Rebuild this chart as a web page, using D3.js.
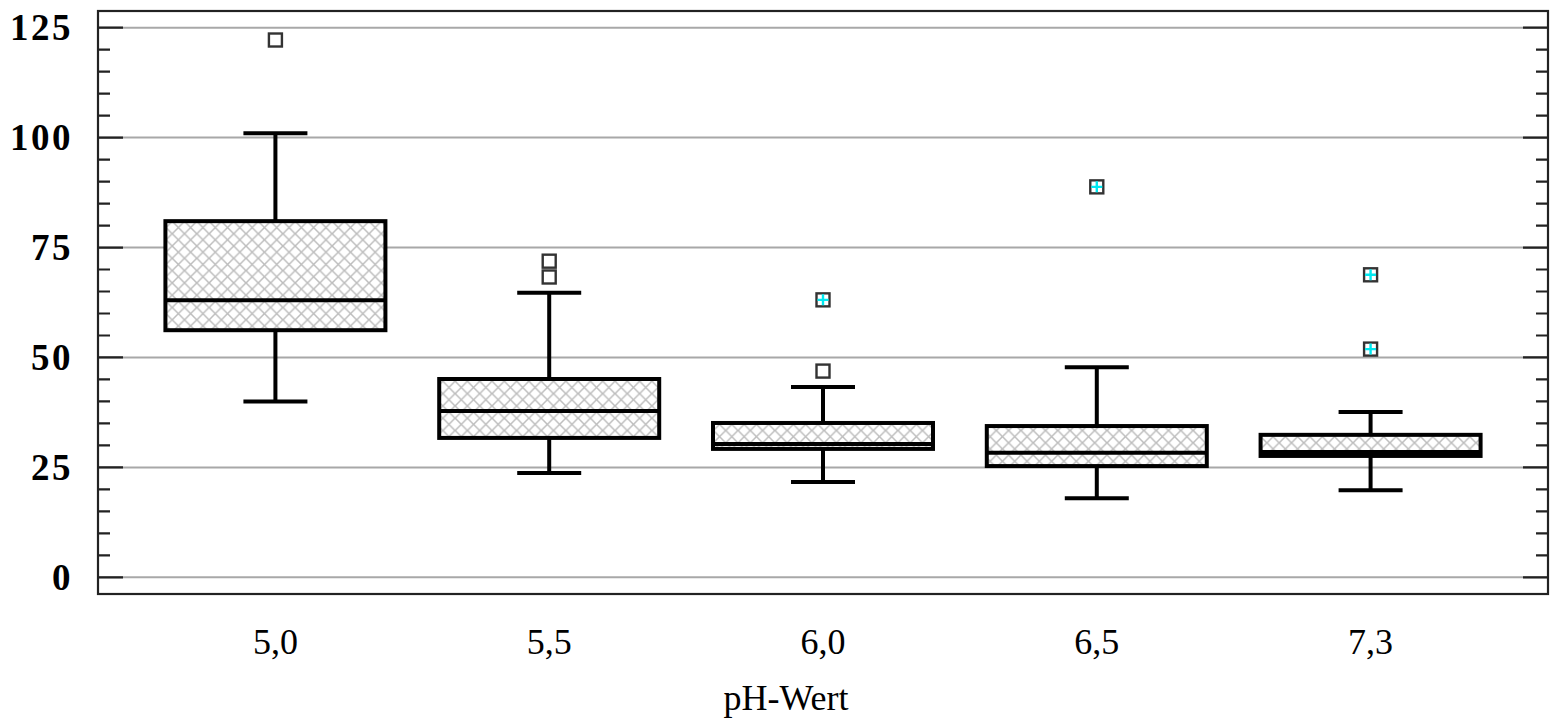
<!DOCTYPE html>
<html>
<head>
<meta charset="utf-8">
<script src="https://cdn.jsdelivr.net/npm/d3@7"></script>
<style>
  html, body { margin: 0; padding: 0; background: #fff; }
  svg { display: block; }
</style>
</head>
<body>
<svg id="chart" width="1554" height="719"></svg>
<script>
// pH groups
const categories = ["5,0", "5,5", "6,0", "6,5", "7,3"];
// box statistics per group
const q1 = [56.2, 31.7, 29.2, 25.3, 27.6];
const median = [63.0, 37.8, 30.3, 28.3, 28.5];
const q3 = [81.0, 45.1, 35.1, 34.4, 32.4];
const whiskerLow = [40.0, 23.7, 21.7, 18.0, 19.8];
const whiskerHigh = [101.0, 64.7, 43.3, 47.8, 37.6];
// outliers (plain squares) and extreme values (squares with cross)
const outliers = [[122.2], [71.9, 68.3], [46.9], [], []];
const extremes = [[], [], [63.1], [88.8], [68.8, 51.9]];
// axis ticks
const yTicks = [0, 25, 50, 75, 100, 125];
const yMinorTicks = d3.range(0, 130, 5).filter(v => v % 25 !== 0);
const xTitle = "pH-Wert";

const svg = d3.select("#chart");
const plotLeft = 98, plotRight = 1548, plotTop = 11, plotBottom = 594;

const x = d3.scalePoint().domain(categories).range([plotLeft, plotRight]).padding(0.648);
const y = d3.scaleLinear().domain([0, 125]).range([577.3, 27.7]);

const boxW = 220, capW = 64, mk = 13;
const serif = "'Liberation Serif', 'DejaVu Serif', serif";

// hatch pattern
const defs = svg.append("defs");
const pat = defs.append("pattern")
  .attr("id", "hatch").attr("patternUnits", "userSpaceOnUse")
  .attr("width", 12.3).attr("height", 12.3);
pat.append("rect").attr("width", 12.3).attr("height", 12.3).attr("fill", "#fff");
pat.append("path")
  .attr("d", "M-1,-1 L13.3,13.3 M13.3,-1 L-1,13.3")
  .attr("stroke", "#bdbdbd").attr("stroke-width", 1.5).attr("fill", "none");

// grid lines
svg.append("g").selectAll("line").data(yTicks).join("line")
  .attr("x1", plotLeft).attr("x2", plotRight)
  .attr("y1", d => y(d)).attr("y2", d => y(d))
  .attr("stroke", "#a8a8a8").attr("stroke-width", 2);

// major and minor ticks on both vertical axes
const tickG = svg.append("g").attr("stroke", "#222");
tickG.selectAll(".maj").data(yTicks).join("path").attr("class", "maj")
  .attr("d", d => `M${plotLeft},${y(d)}H${plotLeft + 25}M${plotRight},${y(d)}H${plotRight - 25}`)
  .attr("stroke-width", 2.2);
tickG.selectAll(".min").data(yMinorTicks).join("path").attr("class", "min")
  .attr("d", d => `M${plotLeft},${y(d)}H${plotLeft + 12}M${plotRight},${y(d)}H${plotRight - 12}`)
  .attr("stroke-width", 2.2);

// frame
svg.append("rect")
  .attr("x", plotLeft).attr("y", plotTop)
  .attr("width", plotRight - plotLeft).attr("height", plotBottom - plotTop)
  .attr("fill", "none").attr("stroke", "#222").attr("stroke-width", 2.2);

// y labels
svg.append("g").selectAll("text").data(yTicks).join("text")
  .attr("x", 73).attr("y", d => y(d)).attr("dy", "0.34em")
  .attr("text-anchor", "end")
  .attr("font-family", serif)
  .attr("font-weight", "bold").attr("font-size", 37)
  .attr("letter-spacing", 2.5)
  .text(d => d);

// x labels
svg.append("g").selectAll("text").data(categories).join("text")
  .attr("x", d => x(d)).attr("y", 654)
  .attr("text-anchor", "middle")
  .attr("font-family", serif)
  .attr("font-size", 36)
  .text(d => d);

svg.append("text")
  .attr("x", 786).attr("y", 710)
  .attr("text-anchor", "middle")
  .attr("font-family", serif)
  .attr("font-size", 36)
  .text(xTitle);

// box plots
const boxes = categories.map((c, i) => ({
  c, q1: q1[i], med: median[i], q3: q3[i], lo: whiskerLow[i], hi: whiskerHigh[i],
  out: outliers[i], ext: extremes[i]
}));

const g = svg.append("g").attr("stroke", "#000");
const bg = g.selectAll(".box").data(boxes).join("g").attr("class", "box");

// whiskers
bg.append("path")
  .attr("d", d => `M${x(d.c)},${y(d.q3)}V${y(d.hi)}M${x(d.c)},${y(d.q1)}V${y(d.lo)}` +
    `M${x(d.c) - capW / 2},${y(d.hi)}H${x(d.c) + capW / 2}` +
    `M${x(d.c) - capW / 2},${y(d.lo)}H${x(d.c) + capW / 2}`)
  .attr("stroke-width", 4).attr("fill", "none");

// box body
bg.append("rect")
  .attr("x", d => x(d.c) - boxW / 2).attr("width", boxW)
  .attr("y", d => y(d.q3)).attr("height", d => y(d.q1) - y(d.q3))
  .attr("fill", "url(#hatch)").attr("stroke-width", 4);

// median
bg.append("line")
  .attr("x1", d => x(d.c) - boxW / 2).attr("x2", d => x(d.c) + boxW / 2)
  .attr("y1", d => y(d.med)).attr("y2", d => y(d.med))
  .attr("stroke-width", 4);

// outlier markers
const outPts = boxes.flatMap(d => d.out.map(v => ({ c: d.c, v })));
const extPts = boxes.flatMap(d => d.ext.map(v => ({ c: d.c, v })));

svg.append("g").selectAll("rect").data(outPts.concat(extPts)).join("rect")
  .attr("x", d => x(d.c) - mk / 2).attr("y", d => y(d.v) - mk / 2)
  .attr("width", mk).attr("height", mk)
  .attr("fill", "#fff").attr("stroke", "#333").attr("stroke-width", 2.4);

svg.append("g").selectAll("path").data(extPts).join("path")
  .attr("d", d => `M${x(d.c) - mk / 2 + 1},${y(d.v)}H${x(d.c) + mk / 2 - 1}` +
    `M${x(d.c)},${y(d.v) - mk / 2 + 1}V${y(d.v) + mk / 2 - 1}`)
  .attr("stroke", "#00e8f0").attr("stroke-width", 2.4);
</script>
</body>
</html>
